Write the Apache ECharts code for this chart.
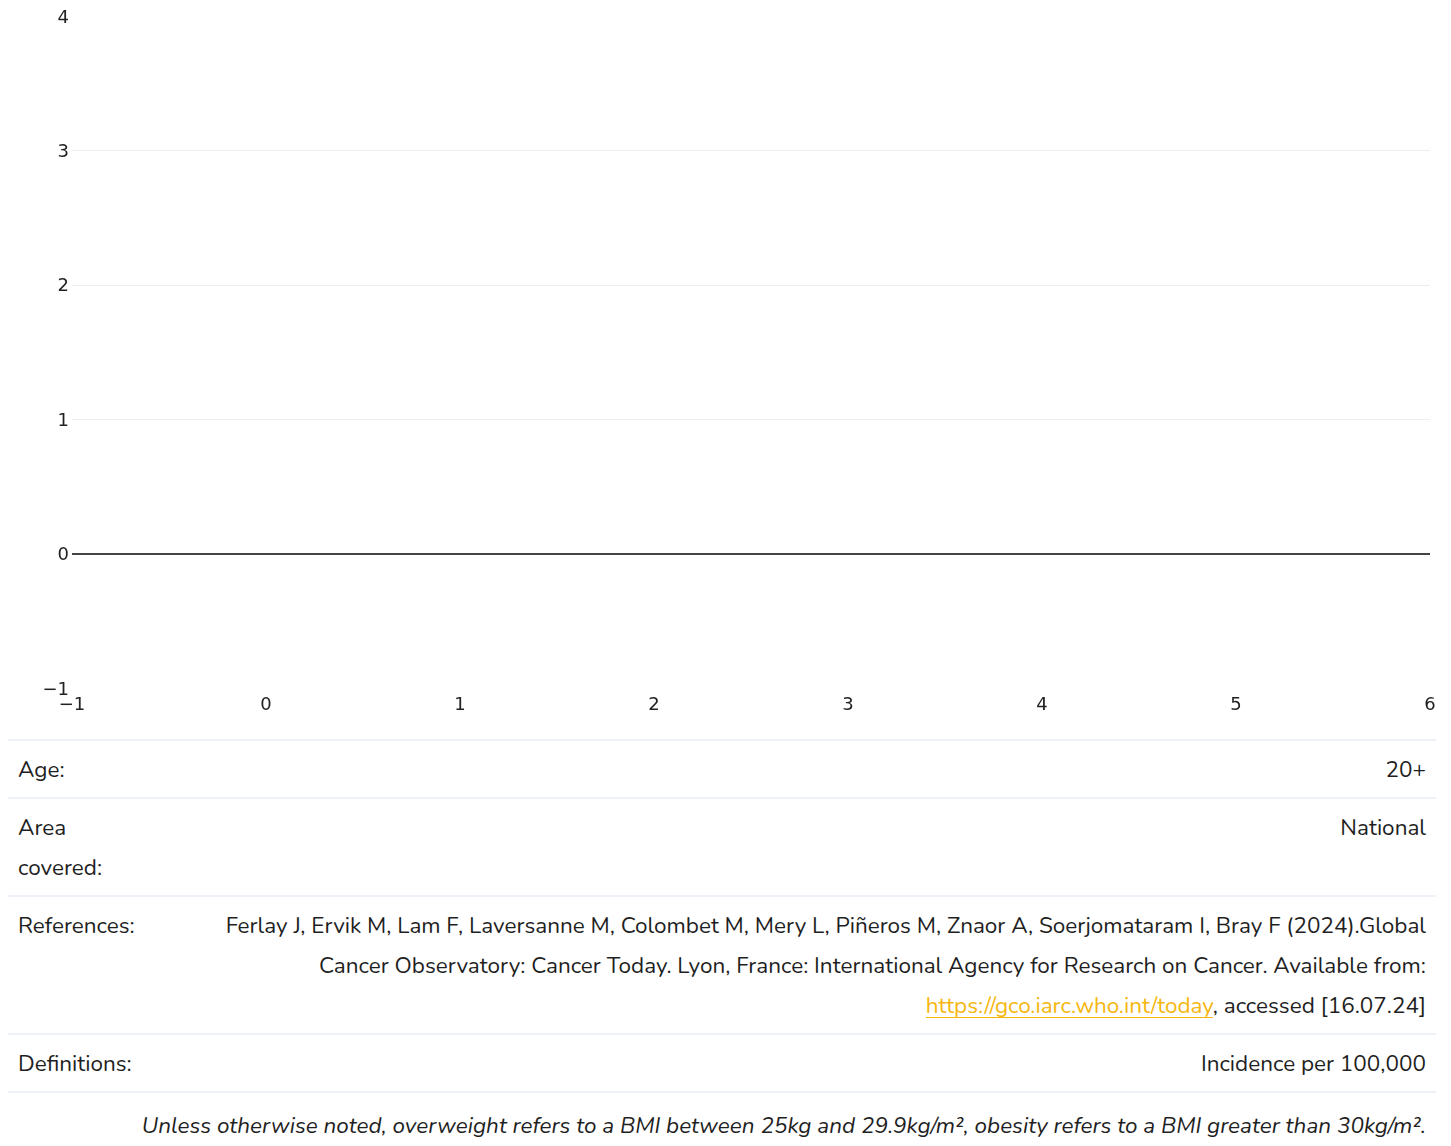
<!DOCTYPE html>
<html>
<head>
<meta charset="utf-8">
<script src="https://cdn.jsdelivr.net/npm/echarts@6/dist/echarts.min.js"></script>
<style>
  html, body { margin: 0; padding: 0; background: #fff; }
  body { width: 1451px; font-family: "Nunito", "Noto Sans", "Open Sans", sans-serif; color: #1f1f1f; }
  #chart { width: 1451px; height: 739px; }
  .tbl { margin: 0 15px 0 8px; border-top: 2px solid #eef2f8; }
  .row { display: flex; border-bottom: 2px solid #eef2f8; padding: 9px 10px 7px 10px; font-size: 22.5px; line-height: 40px; }
  .row .k { width: 200px; flex: none; }
  .row .v { flex: 1; text-align: right; }
  .row a { color: #f5b70f; text-decoration: underline; text-underline-offset: 4px; text-decoration-thickness: 1px; }
  .note { text-align: right; font-style: italic; font-size: 22.5px; line-height: 40px; padding: 13px 10px 0 0; margin-right: 15px; }
</style>
</head>
<body>
<div id="chart"></div>
<div class="tbl">
  <div class="row"><div class="k">Age:</div><div class="v">20+</div></div>
  <div class="row"><div class="k">Area<br>covered:</div><div class="v">National</div></div>
  <div class="row"><div class="k">References:</div><div class="v">Ferlay J, Ervik M, Lam F, Laversanne M, Colombet M, Mery L, Piñeros M, Znaor A, Soerjomataram I, Bray F (2024).Global<br>Cancer Observatory: Cancer Today. Lyon, France: International Agency for Research on Cancer. Available from:<br><a href="https://gco.iarc.who.int/today">https://gco.iarc.who.int/today</a>, accessed [16.07.24]</div></div>
  <div class="row"><div class="k">Definitions:</div><div class="v">Incidence per 100,000</div></div>
</div>
<div class="note">Unless otherwise noted, overweight refers to a BMI between 25kg and 29.9kg/m², obesity refers to a BMI greater than 30kg/m².</div>
<script>
// Axis ranges (empty chart — no data points)
const xRange = [-1, 6];
const yRange = [-1, 4];
const seriesValues = [];
const zeroLineValue = 0;

const fmt = v => String(v).replace('-', '\u2212');
const chart = echarts.init(document.getElementById('chart'));
chart.setOption({
  animation: false,
  grid: { left: 72, right: 21, top: 16, bottom: 51, containLabel: false },
  xAxis: {
    type: 'value', min: xRange[0], max: xRange[1], interval: 1,
    axisLine: { show: false }, axisTick: { show: false }, splitLine: { show: false },
    axisLabel: { fontFamily: 'DejaVu Sans', fontSize: 18, color: '#222', margin: 8, formatter: fmt }
  },
  yAxis: {
    type: 'value', min: yRange[0], max: yRange[1], interval: 1,
    axisLine: { show: false }, axisTick: { show: false },
    splitLine: { show: true, lineStyle: { width: 1, color: ['rgba(0,0,0,0)', 'rgba(0,0,0,0)', '#eeeeee', '#eeeeee', '#eeeeee', 'rgba(0,0,0,0)'] } },
    axisLabel: {
      fontFamily: 'DejaVu Sans', fontSize: 18, color: '#222', margin: 3,
      formatter: v => '{a|' + fmt(v) + '}',
      rich: { a: { fontFamily: 'DejaVu Sans', fontSize: 18, color: '#222', padding: [4, 0, 0, 0] } }
    }
  },
  series: [{
    type: 'scatter', data: seriesValues,
    markLine: {
      silent: true, symbol: ['none', 'none'], label: { show: false },
      lineStyle: { color: '#444', width: 2, type: 'solid' },
      data: [{ yAxis: zeroLineValue }]
    }
  }]
});
</script>
</body>
</html>
